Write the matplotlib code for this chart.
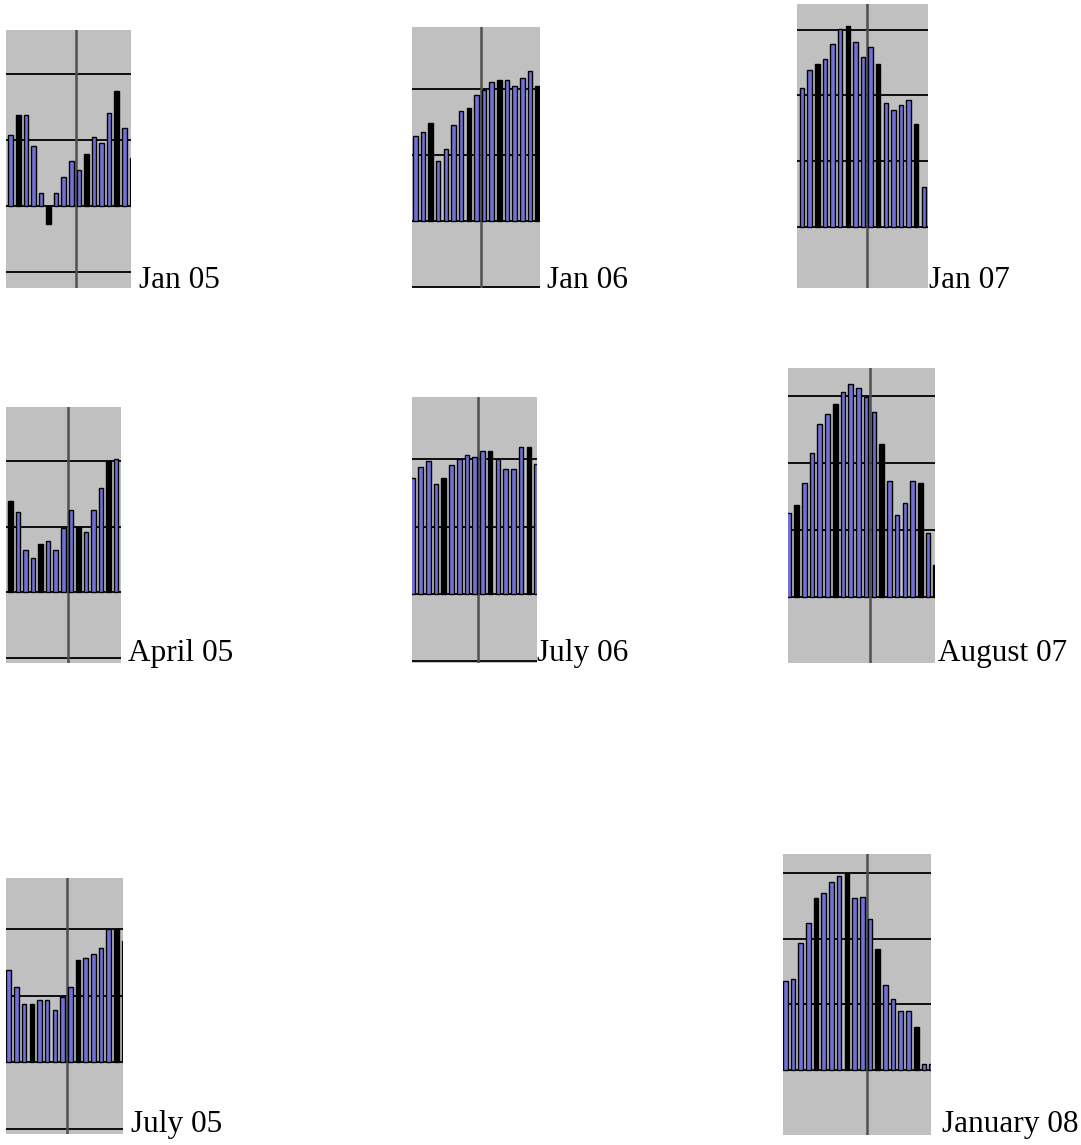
import matplotlib
matplotlib.use("Agg")
import matplotlib.pyplot as plt

# Monthly panel values (one bar per period, zero = baseline)
jan05 = [1.08, 1.38, 1.38, 0.90, 0.19, -0.28, 0.19, 0.44, 0.68, 0.55, 0.78, 1.05, 0.96, 1.41, 1.74, 1.18, 0.72]
jan06 = [1.28, 1.34, 1.49, 0.91, 1.09, 1.45, 1.67, 1.71, 1.91, 1.99, 2.10, 2.13, 2.13, 2.04, 2.16, 2.28, 2.04]
jan07 = [2.11, 2.38, 2.47, 2.56, 2.78, 3.01, 3.06, 2.81, 2.59, 2.74, 2.47, 1.89, 1.77, 1.85, 1.93, 1.56, 0.61]
apr05 = [1.39, 1.22, 0.65, 0.52, 0.74, 0.78, 0.65, 0.98, 1.26, 0.99, 0.92, 1.26, 1.60, 2.00, 2.03]
jul06 = [1.72, 1.89, 1.97, 1.64, 1.72, 1.92, 2.00, 2.06, 2.04, 2.13, 2.13, 2.00, 1.86, 1.86, 2.19, 2.19, 1.93]
aug07 = [1.25, 1.38, 1.70, 2.15, 2.58, 2.73, 2.89, 3.06, 3.18, 3.12, 2.99, 2.76, 2.28, 1.74, 1.23, 1.40, 1.74, 1.71, 0.96, 0.48]
jul05 = [1.38, 1.13, 0.87, 0.87, 0.93, 0.94, 0.78, 0.98, 1.13, 1.53, 1.56, 1.62, 1.71, 2.00, 2.00, 1.81]
jan08 = [1.35, 1.38, 1.94, 2.24, 2.62, 2.70, 2.86, 2.95, 3.00, 2.62, 2.64, 2.30, 1.85, 1.29, 1.08, 0.90, 0.90, 0.65, 0.09, 0.09]

panel_labels = ["Jan 05", "Jan 06", "Jan 07", "April 05", "July 06", "August 07", "July 05", "January 08"]
panel_values = [jan05, jan06, jan07, apr05, jul06, aug07, jul05, jan08]

W, H = 1081, 1145
fig = plt.figure(figsize=(W / 100, H / 100), dpi=100)
fig.patch.set_facecolor("white")

# Layout per panel: pixel box (left, top, right, bottom), view limits,
# position of the vertical axis line, bars that render dark, label anchor.
layout = [
    dict(box=(6, 30, 131, 288), xlim=(-0.63, 15.88), ylim=(-1.25, 2.67), vx=8.61, dark=[1, 5, 10, 14, 16], lab=(139, 288)),
    dict(box=(412, 27, 540, 288), xlim=(-0.42, 16.30), ylim=(-1.02, 2.94), vx=8.58, dark=[2, 7, 11, 16], lab=(547, 288)),
    dict(box=(797, 4, 928, 288), xlim=(-0.68, 16.55), ylim=(-0.93, 3.39), vx=8.53, dark=[2, 6, 10, 15], lab=(929, 288)),
    dict(box=(6, 407, 121, 663), xlim=(-0.57, 14.64), ylim=(-1.08, 2.83), vx=7.61, dark=[0, 4, 9, 13], lab=(128, 661)),
    dict(box=(412, 397, 537, 663), xlim=(-0.10, 16.05), ylim=(-1.03, 2.93), vx=8.47, dark=[4, 10, 15], lab=(537, 661)),
    dict(box=(788, 368, 935, 663), xlim=(-0.10, 18.90), ylim=(-0.98, 3.42), vx=10.45, dark=[1, 6, 12, 17, 19], lab=(938, 661)),
    dict(box=(6, 878, 123, 1134), xlim=(-0.36, 14.87), ylim=(-1.07, 2.76), vx=7.52, dark=[3, 9, 14, 15], lab=(131, 1132)),
    dict(box=(783, 854, 931, 1135), xlim=(-0.29, 18.92), ylim=(-0.99, 3.29), vx=10.64, dark=[4, 8, 12, 17], lab=(942, 1132)),
]

BAR_BLUE = "#7070d8"
GRID_Y = [-1, 0, 1, 2, 3]

for vals, name, lay in zip(panel_values, panel_labels, layout):
    l, t, r, b = lay["box"]
    ax = fig.add_axes([l / W, 1 - b / H, (r - l) / W, (b - t) / H])
    ax.set_facecolor("#c0c0c0")
    for s in ax.spines.values():
        s.set_visible(False)
    ax.set_xticks([])
    ax.set_yticks([])
    ax.set_xlim(*lay["xlim"])
    ax.set_ylim(*lay["ylim"])

    for gy in GRID_Y:
        ax.axhline(gy, color="black", lw=1.3, zorder=1)
    ax.axvline(lay["vx"], color="#505050", lw=1.8, zorder=1)

    x = list(range(len(vals)))
    faces = ["black" if i in lay["dark"] else BAR_BLUE for i in x]
    ax.bar(x, vals, width=0.6, color=faces, edgecolor="black", linewidth=1.0, zorder=2)

    lx, ly = lay["lab"]
    fig.text(lx / W, 1 - ly / H, name, ha="left", va="baseline",
             fontsize=22.5, family="Liberation Serif", color="black")

fig.savefig("out.png", dpi=100, facecolor="white")
